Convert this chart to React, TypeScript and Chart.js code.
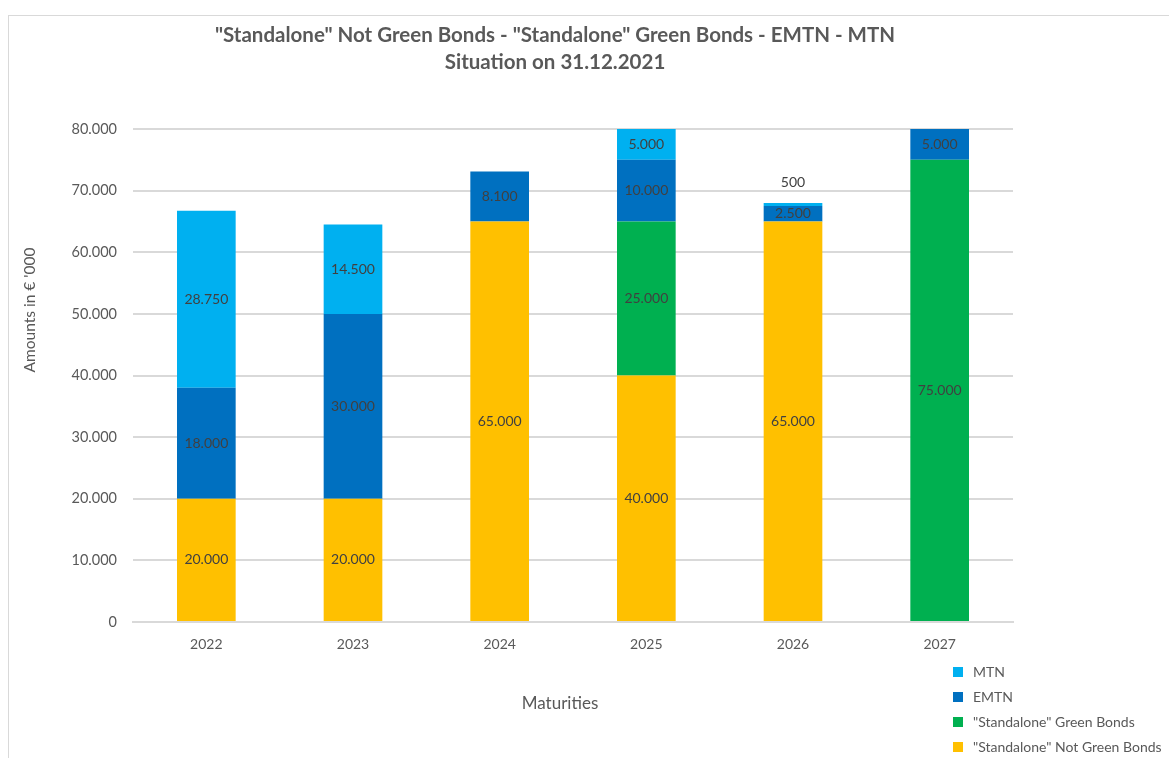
import React, { useEffect, useRef } from 'react';
import { Chart, registerables } from 'chart.js';

Chart.register(...registerables);

const categories = ['2022', '2023', '2024', '2025', '2026', '2027'];
const notGreenBonds = [20000, 20000, 65000, 40000, 65000, 0];
const greenBonds = [0, 0, 0, 25000, 0, 75000];
const emtn = [18000, 30000, 8100, 10000, 2500, 5000];
const mtn = [28750, 14500, 0, 5000, 500, 0];
const yMax = 80000;
const yStep = 10000;

const titleLines = ['"Standalone" Not Green Bonds - "Standalone" Green Bonds - EMTN - MTN', 'Situation on 31.12.2021'];
const yAxisTitle = "Amounts in \u20ac '000";
const xAxisTitle = 'Maturities';

const FONT = 'Lato, "Open Sans", sans-serif';
const TEXT = '#595959';
const LABEL = '#404040';
const GRID = '#D9D9D9';

const fmt = (v: number) => String(v).replace(/\B(?=(\d{3})+(?!\d))/g, '.');

const decor = {
  id: 'decor',
  afterDatasetsDraw(chart: any) {
    const ctx = chart.ctx;
    ctx.save();
    // data labels
    ctx.font = `14px ${FONT}`;
    ctx.fillStyle = LABEL;
    ctx.textAlign = 'center';
    ctx.textBaseline = 'middle';
    chart.data.datasets.forEach((ds: any, di: number) => {
      const meta = chart.getDatasetMeta(di);
      meta.data.forEach((el: any, i: number) => {
        const v = ds.data[i];
        if (!v) return;
        const { x, y, base } = el.getProps(['x', 'y', 'base'], true);
        const h = Math.abs(base - y);
        if (h < 14) ctx.fillText(fmt(v), x, y - 20);
        else ctx.fillText(fmt(v), x, (y + base) / 2);
      });
    });

    // title
    ctx.fillStyle = TEXT;
    ctx.font = `bold 20.5px ${FONT}`;
    ctx.fillText(titleLines[0], 555, 35);
    ctx.fillText(titleLines[1], 555, 62);

    // axis titles
    ctx.font = `17px ${FONT}`;
    ctx.fillText(xAxisTitle, 560, 704);
    ctx.font = `15.5px ${FONT}`;
    ctx.save();
    ctx.translate(30, 310);
    ctx.rotate(-Math.PI / 2);
    ctx.fillText(yAxisTitle, 0, 0);
    ctx.restore();

    // legend (reverse order, vertical)
    ctx.font = `14px ${FONT}`;
    ctx.textAlign = 'left';
    const items = chart.data.datasets.slice().reverse();
    items.forEach((ds: any, k: number) => {
      const cy = 672 + k * 25;
      ctx.fillStyle = ds.backgroundColor;
      ctx.fillRect(953, cy - 5, 10, 10);
      ctx.fillStyle = TEXT;
      ctx.fillText(ds.label, 973, cy);
    });
    ctx.restore();
  },
};

export default function App() {
  const ref = useRef<HTMLCanvasElement | null>(null);

  useEffect(() => {
    if (!ref.current) return;
    const chart = new Chart(ref.current, {
      type: 'bar',
      data: {
        labels: categories,
        datasets: [
          { label: '"Standalone" Not Green Bonds', data: notGreenBonds, backgroundColor: '#FFC000' },
          { label: '"Standalone" Green Bonds', data: greenBonds, backgroundColor: '#00B050' },
          { label: 'EMTN', data: emtn, backgroundColor: '#0070C0' },
          { label: 'MTN', data: mtn, backgroundColor: '#00B0F0' },
        ],
      },
      options: {
        responsive: false,
        animation: false,
        layout: { padding: { top: 129, right: 156, left: 0, bottom: 0 } },
        datasets: { bar: { barPercentage: 0.4, categoryPercentage: 1.0 } },
        plugins: {
          legend: { display: false },
          title: { display: false },
          tooltip: { enabled: false },
        },
        scales: {
          x: {
            stacked: true,
            grid: { display: false, drawTicks: false },
            border: { display: true, color: GRID, width: 2 },
            ticks: { color: TEXT, font: { family: FONT, size: 14 }, padding: 14 },
            afterFit: (s: any) => { s.height = 136; },
          },
          y: {
            stacked: true,
            min: 0,
            max: yMax,
            grid: { color: GRID, lineWidth: 2, drawTicks: false },
            border: { display: false },
            ticks: {
              stepSize: yStep,
              color: TEXT,
              font: { family: FONT, size: 14.5 },
              padding: 16,
              callback: (v: any) => fmt(Number(v)),
            },
            afterFit: (s: any) => { s.width = 133; },
          },
        },
      },
      plugins: [decor],
    });
    return () => chart.destroy();
  }, []);

  return (
    <div style={{ position: 'fixed', left: 0, top: 0, width: 1169, height: 758, overflow: 'hidden', background: '#fff' }}>
      <div style={{ position: 'absolute', left: 8, top: 15, width: 1400, height: 1000, border: `1px solid ${GRID}` }} />
      <canvas ref={ref} width={1169} height={758} style={{ position: 'absolute', left: 0, top: 0, display: 'block' }} />
    </div>
  );
}
